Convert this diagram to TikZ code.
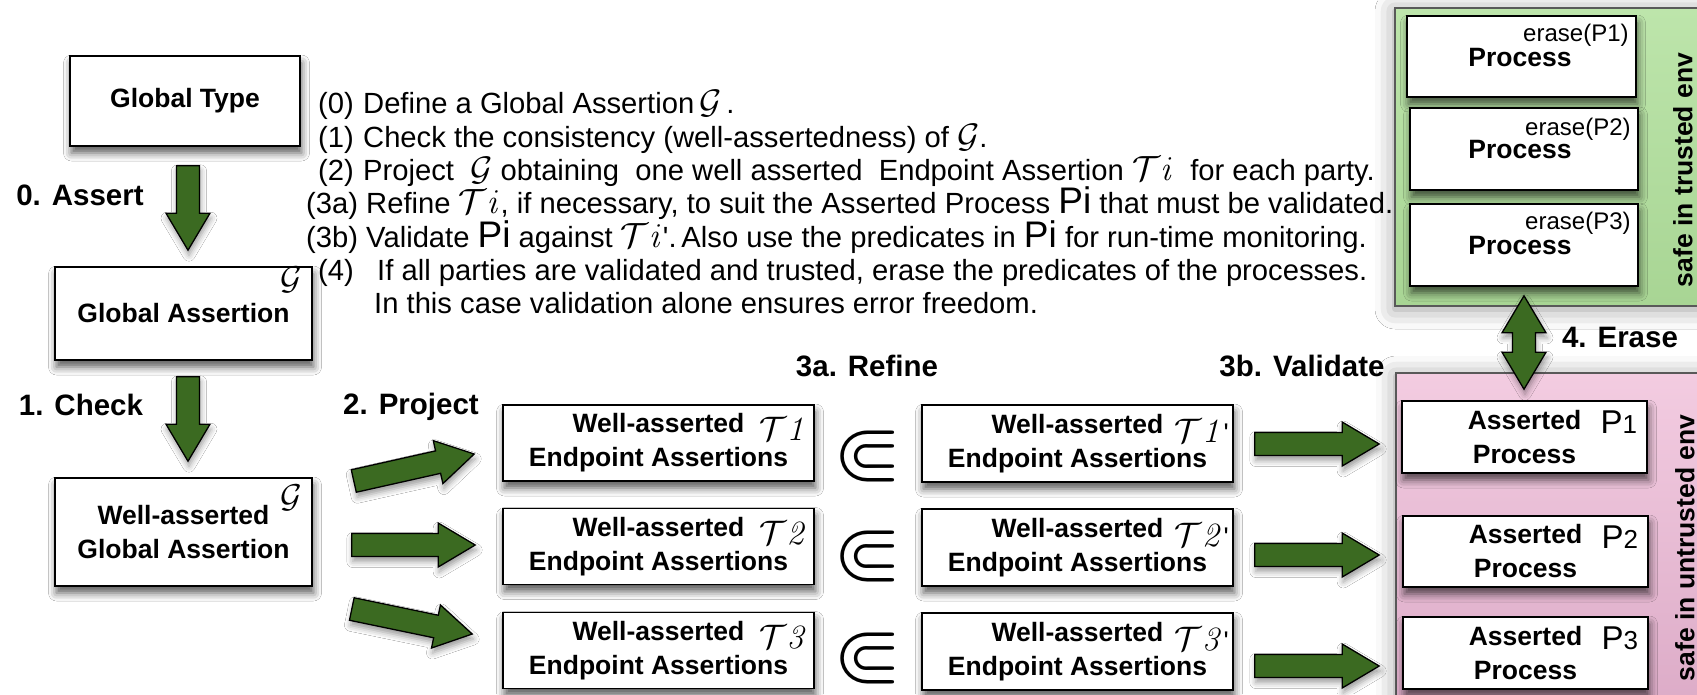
\RequirePackage{fix-cm}
\documentclass[tikz,border=0pt]{standalone}
\usepackage{amssymb}
\usepackage[no-math]{fontspec}
\setmainfont{Liberation Sans}
\usetikzlibrary{calc,shadows.blur}

\definecolor{arrowgreen}{HTML}{3B6A21}
\definecolor{trustA}{HTML}{BDE5AB}
\definecolor{trustB}{HTML}{A8D594}
\definecolor{untrustA}{HTML}{F3CCE1}
\definecolor{untrustB}{HTML}{DCABC7}

\newcommand\boxfont{\fontsize{26.5}{34}\selectfont\bfseries}
\newcommand\stepfont{\fontsize{29.5}{34}\selectfont\bfseries}
\newcommand\parafont{\fontsize{29.2}{33.5}\selectfont}
\newcommand\calTi{{\fontsize{35}{35}\selectfont$\mathcal{T}\mathit{i}$}}
\newcommand\calG{{\fontsize{34}{34}\selectfont$\mathcal{G}$}}
\newcommand\txtPi{{\fontsize{37}{37}\selectfont Pi}}

\tikzset{
  stagebox/.style={draw=black, line width=1.6pt, fill=white, inner sep=0pt,
    align=center, font=\boxfont,
    blur shadow={shadow xshift=1.5pt, shadow yshift=-7pt,
      shadow blur radius=8pt, shadow opacity=65}},
  envpanel/.style={draw=black!65, line width=1.2pt, inner sep=0pt,
    blur shadow={shadow xshift=0pt, shadow yshift=-3pt,
      shadow blur radius=20pt, shadow opacity=40}},
  fatarrowstyle/.style={fill=arrowgreen, draw=black, line width=1.3pt,
    line join=miter,
    blur shadow={shadow xshift=1pt, shadow yshift=-5pt,
      shadow blur radius=6pt, shadow opacity=40}},
  steplabel/.style={font=\stepfont, anchor=base, inner sep=0pt},
  paraline/.style={font=\parafont, anchor=base west, inner sep=0pt},
  subsetmark/.style={fill=white, inner xsep=4pt, inner ysep=11pt,
    font=\fontsize{88}{88}\selectfont},
  cornerlabel/.style={inner sep=0pt},
}

% block arrow from #1 (tail) to #2 (tip)
\newcommand\fatarrow[2]{%
  \coordinate (fahead) at ($(#2)!37pt!(#1)$);
  \path[fatarrowstyle] ($(#1)!11.5pt!90:(#2)$) -- ($(fahead)!11.5pt!90:(#2)$)
    -- ($(fahead)!22pt!90:(#2)$) -- (#2) -- ($(fahead)!22pt!-90:(#2)$)
    -- ($(fahead)!11.5pt!-90:(#2)$) -- ($(#1)!11.5pt!-90:(#2)$) -- cycle;}

% block arrow with a head at both ends
\newcommand\fatdoublearrow[2]{%
  \coordinate (fdha) at ($(#1)!37pt!(#2)$);
  \coordinate (fdhb) at ($(#2)!37pt!(#1)$);
  \path[fatarrowstyle] (#1) -- ($(fdha)!22pt!90:(#2)$) -- ($(fdha)!11.5pt!90:(#2)$)
    -- ($(fdhb)!11.5pt!-90:(#1)$) -- ($(fdhb)!22pt!-90:(#1)$) -- (#2)
    -- ($(fdhb)!22pt!90:(#1)$) -- ($(fdhb)!11.5pt!90:(#1)$)
    -- ($(fdha)!11.5pt!-90:(#2)$) -- ($(fdha)!22pt!-90:(#2)$) -- cycle;}

\begin{document}
\begin{tikzpicture}[x=1pt,y=-1pt]
\useasboundingbox (0,0) rectangle (1697,694);
\fill[white] (0,0) rectangle (1697,694);

% execution environments
\node[envpanel, top color=trustA, bottom color=trustB,
  minimum width=317pt, minimum height=298pt] (trusted) at (1553.5,157) {};
\node[envpanel, top color=untrustA, bottom color=untrustB,
  minimum width=316pt, minimum height=337pt] (untrusted) at (1554,541.5) {};

% global level
\node[stagebox, minimum width=230pt, minimum height=90pt] (gt) at (185,101) {Global Type};
\node[stagebox, minimum width=257pt, minimum height=93pt] (gass) at (183.5,313.5) {Global Assertion};
\node[stagebox, minimum width=257pt, minimum height=108pt] (wga) at (183.5,532) {Well-asserted\\Global Assertion};

% projected endpoint assertions
\node[stagebox, minimum width=311pt, minimum height=76pt] (t1) at (658.5,443) {Well-asserted\\Endpoint Assertions};
\node[stagebox, minimum width=311pt, minimum height=76pt] (t2) at (658.5,546.5) {Well-asserted\\Endpoint Assertions};
\node[stagebox, minimum width=311pt, minimum height=76pt] (t3) at (658.5,650.5) {Well-asserted\\Endpoint Assertions};

% refined endpoint assertions
\node[stagebox, minimum width=311pt, minimum height=77pt] (tp1) at (1077.5,443.5) {Well-asserted\\Endpoint Assertions};
\node[stagebox, minimum width=311pt, minimum height=77pt] (tp2) at (1077.5,547.5) {Well-asserted\\Endpoint Assertions};
\node[stagebox, minimum width=311pt, minimum height=77pt] (tp3) at (1077.5,651.5) {Well-asserted\\Endpoint Assertions};

% asserted processes (untrusted)
\node[stagebox, minimum width=245pt, minimum height=72pt] (pp1) at (1524.5,437) {Asserted\\Process};
\node[stagebox, minimum width=245pt, minimum height=71pt] (pp2) at (1525.5,551.5) {Asserted\\Process};
\node[stagebox, minimum width=245pt, minimum height=72pt] (pp3) at (1525.5,653) {Asserted\\Process};

% erased processes (trusted)
\node[stagebox, minimum width=229pt, minimum height=81pt] (pr1) at (1521.5,56.5) {};
\node[stagebox, minimum width=228pt, minimum height=82pt] (pr2) at (1524,149) {};
\node[stagebox, minimum width=228pt, minimum height=82pt] (pr3) at (1524,245) {};
\node[font=\boxfont, inner sep=0pt] (prl1) at ($(pr1.center)+(-1.5,1)$) {Process};
\node[font=\boxfont, inner sep=0pt] (prl2) at ($(pr2.center)+(-4,1)$) {Process};
\node[font=\boxfont, inner sep=0pt] (prl3) at ($(pr3.center)+(-4,1)$) {Process};
\node[anchor=east, font=\fontsize{24}{24}\selectfont, inner sep=0pt] (er1) at ($(pr1.north east)+(-8,20)$) {erase(P1)};
\node[anchor=east, font=\fontsize{24}{24}\selectfont, inner sep=0pt] (er2) at ($(pr2.north east)+(-8,22)$) {erase(P2)};
\node[anchor=east, font=\fontsize{24}{24}\selectfont, inner sep=0pt] (er3) at ($(pr3.north east)+(-8,20)$) {erase(P3)};

% corner symbols
\node[cornerlabel] (gsym1) at ($(gass.north east)+(-22,14)$) {\fontsize{33}{33}\selectfont$\mathcal{G}$};
\node[cornerlabel] (gsym2) at ($(wga.north east)+(-22,21)$) {\fontsize{33}{33}\selectfont$\mathcal{G}$};
\node[cornerlabel] (tsym1) at ($(t1.north east)+(-31,25)$) {\fontsize{34}{34}\selectfont$\mathcal{T}\mathit{1}$};
\node[cornerlabel] (tsym2) at ($(t2.north east)+(-31,25)$) {\fontsize{34}{34}\selectfont$\mathcal{T}\mathit{2}$};
\node[cornerlabel] (tsym3) at ($(t3.north east)+(-31,25)$) {\fontsize{34}{34}\selectfont$\mathcal{T}\mathit{3}$};
\node[cornerlabel] (tpsym1) at ($(tp1.north east)+(-32,27)$) {\fontsize{34}{34}\selectfont$\mathcal{T}\mathit{1}$\fontsize{27}{27}\selectfont\textquotesingle};
\node[cornerlabel] (tpsym2) at ($(tp2.north east)+(-32,27)$) {\fontsize{34}{34}\selectfont$\mathcal{T}\mathit{2}$\fontsize{27}{27}\selectfont\textquotesingle};
\node[cornerlabel] (tpsym3) at ($(tp3.north east)+(-32,27)$) {\fontsize{34}{34}\selectfont$\mathcal{T}\mathit{3}$\fontsize{27}{27}\selectfont\textquotesingle};
\node[cornerlabel] (psym1) at ($(pp1.north east)+(-29,22)$) {\fontsize{33}{33}\selectfont P\fontsize{26}{26}\selectfont 1};
\node[cornerlabel] (psym2) at ($(pp2.north east)+(-29,22)$) {\fontsize{33}{33}\selectfont P\fontsize{26}{26}\selectfont 2};
\node[cornerlabel] (psym3) at ($(pp3.north east)+(-29,22)$) {\fontsize{33}{33}\selectfont P\fontsize{26}{26}\selectfont 3};

% arrows
\coordinate (a0s) at ($(gt.south)+(3,19)$);
\coordinate (a0e) at ($(gass.north)+(4.5,-16)$);
\fatarrow{a0s}{a0e}
\coordinate (a1s) at ($(gass.south)+(4.5,16)$);
\coordinate (a1e) at ($(wga.north)+(4.5,-16)$);
\fatarrow{a1s}{a1e}

\coordinate (p1s) at ($(wga.east)+(41,-51)$);
\coordinate (p1e) at ($(t1.west)+(-28,11)$);
\fatarrow{p1s}{p1e}
\coordinate (p2s) at ($(wga.east)+(39,13)$);
\coordinate (p2e) at ($(t2.west)+(-27,-1.5)$);
\fatarrow{p2s}{p2e}
\coordinate (p3s) at ($(wga.east)+(39,77)$);
\coordinate (p3e) at ($(t3.west)+(-30,-16.5)$);
\fatarrow{p3s}{p3e}

\coordinate (v1s) at ($(tp1.east)+(21,0.5)$);
\coordinate (v1e) at ($(pp1.west)+(-22,7)$);
\fatarrow{v1s}{v1e}
\coordinate (v2s) at ($(tp2.east)+(21,7.5)$);
\coordinate (v2e) at ($(pp2.west)+(-23,3.5)$);
\fatarrow{v2s}{v2e}
\coordinate (v3s) at ($(tp3.east)+(21,14.5)$);
\coordinate (v3e) at ($(pp3.west)+(-23,13)$);
\fatarrow{v3s}{v3e}

\coordinate (es) at ($(pr3.south)+(0,9)$);
\coordinate (ee) at ($(pp1.north)+(-0.5,-11)$);
\fatdoublearrow{es}{ee}

% refinement relation
\node[subsetmark] (sub1) at (868,456) {$\Subset$};
\node[subsetmark] (sub2) at (868,556) {$\Subset$};
\node[subsetmark] (sub3) at (868,658) {$\Subset$};

% step labels
\node[steplabel] (lassert) at (80,205.5) {0. Assert};
\node[steplabel] (lcheck) at (81,415.5) {1. Check};
\node[steplabel] (lproject) at (411,414.5) {2. Project};
\node[steplabel] (lrefine) at (867,376.5) {3a. Refine};
\node[steplabel] (lvalidate) at (1302,376.5) {3b. Validate};
\node[steplabel] (lerase) at (1620,347.5) {4. Erase};

% environment labels
\node[font=\boxfont, rotate=90, inner sep=0pt] (ltrusted) at (1683,170) {safe in trusted env};
\node[font=\boxfont, rotate=90, inner sep=0pt] (luntrusted) at (1685,548) {safe in untrusted env};

% methodology notes
\node[paraline] (s0) at (318,113) {\makebox[45pt][l]{(0)}Define a Global Assertion\,\calG\,.};
\node[paraline] (s1) at (318,147) {\makebox[45pt][l]{(1)}Check the consistency (well-assertedness) of \calG.};
\node[paraline] (s2) at (318,180) {\makebox[45pt][l]{(2)}Project \ \calG{} obtaining \ one well asserted \ Endpoint Assertion \calTi{} \ for each party.};
\node[paraline] (s3) at (306,213) {(3a) Refine \calTi, if necessary, to suit the Asserted Process \txtPi{} that must be validated.};
\node[paraline] (s4) at (306,247) {(3b) Validate \txtPi{} against \calTi\textquotesingle.\,Also use the predicates in \txtPi{} for run-time monitoring.};
\node[paraline] (s5) at (318,280) {\makebox[59pt][l]{(4)}If all parties are validated and trusted, erase the predicates of the processes.};
\node[paraline] (s6) at (374,313) {In this case validation alone ensures error freedom.};
\end{tikzpicture}
\end{document}
